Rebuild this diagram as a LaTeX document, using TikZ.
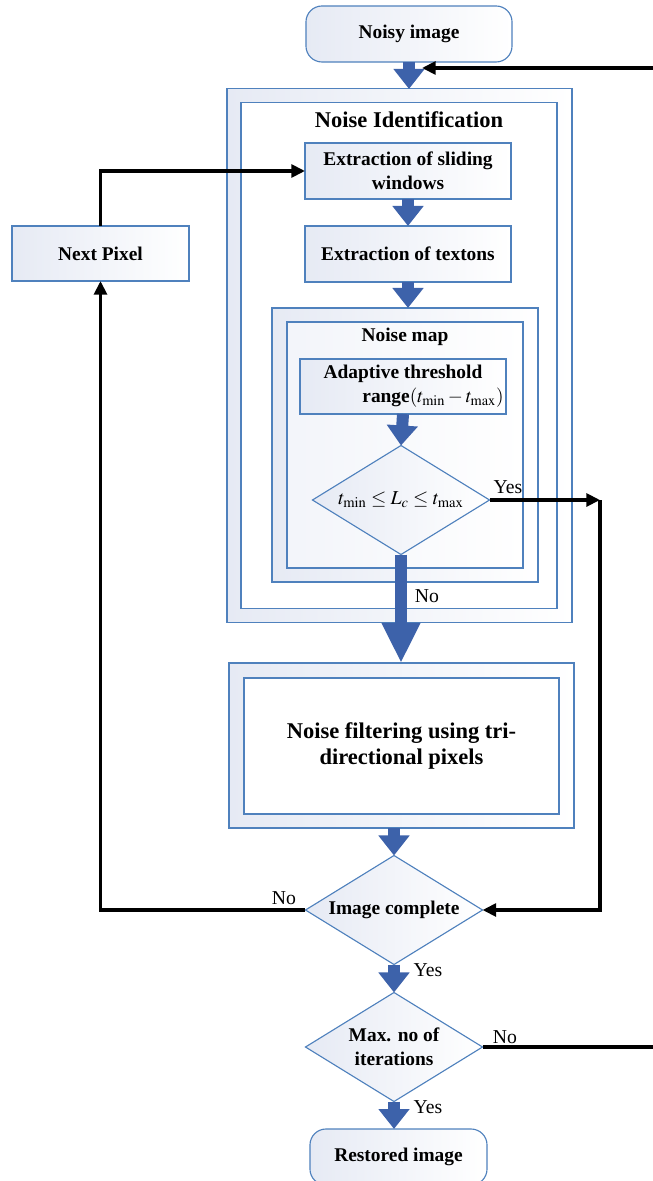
\documentclass[tikz,border=0pt]{standalone}
\usepackage{mathptmx}
\usepackage{fontspec}
\setmainfont{Liberation Serif}
\usetikzlibrary{positioning}
\usetikzlibrary{arrows.meta}
\usetikzlibrary{shapes.geometric}
\definecolor{boxline}{RGB}{79,129,189}
\definecolor{blockblue}{RGB}{61,98,170}
\definecolor{boxshade}{RGB}{230,234,244}

\begin{document}
\begin{tikzpicture}[x=0.025cm,y=-0.025cm,>={Triangle[length=0.34cm,width=0.32cm]},
	box/.style={draw=boxline,line width=0.8pt,left color=boxshade,right color=white,outer sep=0pt,inner sep=1pt,align=center,font=\bfseries\fontsize{13.8}{17}\selectfont},
	term/.style={box,rounded corners=0.4cm},
	cont/.style={draw=boxline,line width=0.8pt,left color=boxshade,right color=white,outer sep=0pt},
	inbox/.style={draw=boxline,line width=0.8pt,fill=white,outer sep=0pt,align=center},
	decide/.style={box,diamond,aspect=1.6,inner sep=0pt,minimum width=4.425cm,minimum height=2.725cm},
	title/.style={font=\bfseries\fontsize{16}{18}\selectfont,inner sep=0pt},
	lbl/.style={font=\fontsize{14}{16}\selectfont,inner sep=0pt},
	blk/.style={draw=blockblue,line width=0.3cm,-{Triangle[length=0.5cm,width=0.75cm]}},
	bigblk/.style={blk,-{Triangle[length=1cm,width=0.9cm]}},
	flow/.style={line width=2.4pt,->}]
	\useasboundingbox (0,0) rectangle (652,1181);

	\node [term,minimum width=5.15cm,minimum height=1.4cm] at (409,34) (noisy) {Noisy image};

	\node [cont,minimum width=8.625cm,minimum height=13.325cm] at (399.5,355.5) (identout) {};
	\node [inbox,minimum width=7.9cm,minimum height=12.625cm] at (399,355.5) (identin) {};
	\node [title] at (409,120) (identtxt) {Noise Identification};
	\node [box,minimum width=5.15cm,minimum height=1.4cm] at (408,171) (slide) {Extraction of sliding\\windows};
	\node [box,minimum width=5.15cm,minimum height=1.4cm] at (408,254) (texton) {Extraction of textons};

	\node [cont,minimum width=6.65cm,minimum height=6.85cm] at (405,445) (mapout) {};
	\node [inbox,left color=boxshade!50,right color=white,minimum width=5.9cm,minimum height=6.15cm] at (405,445) (mapin) {};
	\node [box,draw=none,shade=false,fill=none] at (405,337) (maptxt) {Noise map};
	\node [box,minimum width=5.15cm,minimum height=1.375cm] at (403,386.5) (adapt) {Adaptive threshold\\\hspace*{1.5cm}range$(t_{\min}-t_{\max})$};
	\node [decide,font=\fontsize{14}{16}\selectfont] at (401,500) (cond) {$t_{\min}\le L_c\le t_{\max}$};

	\node [cont,minimum width=8.625cm,minimum height=4.125cm] at (401.5,745.5) (filtout) {};
	\node [inbox,font=\bfseries\fontsize{16}{18}\selectfont,minimum width=7.875cm,minimum height=3.4cm] at (401.5,746) (filtin) {Noise filtering using tri-\\directional pixels};

	\node [decide] at (394,910) (imgdone) {Image complete};
	\node [decide] at (394,1047) (maxit) {Max. no of\\iterations};
	\node [term,minimum width=4.425cm,minimum height=1.4cm] at (398.5,1157) (restored) {Restored image};
	\node [box,minimum width=4.425cm,minimum height=1.375cm] at (100.5,253.5) (nextpx) {Next Pixel};

	\node [lbl] at (508,487) (yescond) {Yes};
	\node [lbl] at (427,596) (nocond) {No};
	\node [lbl] at (284,898) (noimg) {No};
	\node [lbl] at (428,970) (yesimg) {Yes};
	\node [lbl] at (505,1037) (nomax) {No};
	\node [lbl] at (428,1107) (yesmax) {Yes};

	\coordinate (yesjoin) at (600,500);
	\coordinate (feedin) at (422,68);

	\draw[blk] (noisy.south) -- (noisy.south|-identout.north);
	\draw[blk] (slide.south) -- (texton.north);
	\draw[blk] (texton.south) -- (texton.south|-mapout.north);
	\draw[blk] (adapt.south) -- (cond.north);
	\draw[bigblk] (cond.south) -- (cond.south|-filtout.north);
	\draw[blk] (imgdone.north|-filtout.south) -- (imgdone.north);
	\draw[blk] (imgdone.south) -- (maxit.north);
	\draw[blk] (maxit.south) -- (maxit.south|-restored.north);

	\draw[flow] (cond.east) -- (yesjoin);
	\draw[flow] (yesjoin) |- (imgdone.east);
	\draw[flow] (imgdone.west) -| (nextpx.south);
	\draw[flow] (nextpx.north) |- (slide.west);
	\draw[flow] (maxit.east) -- ++(190,0) |- (feedin);
\end{tikzpicture}
\end{document}
